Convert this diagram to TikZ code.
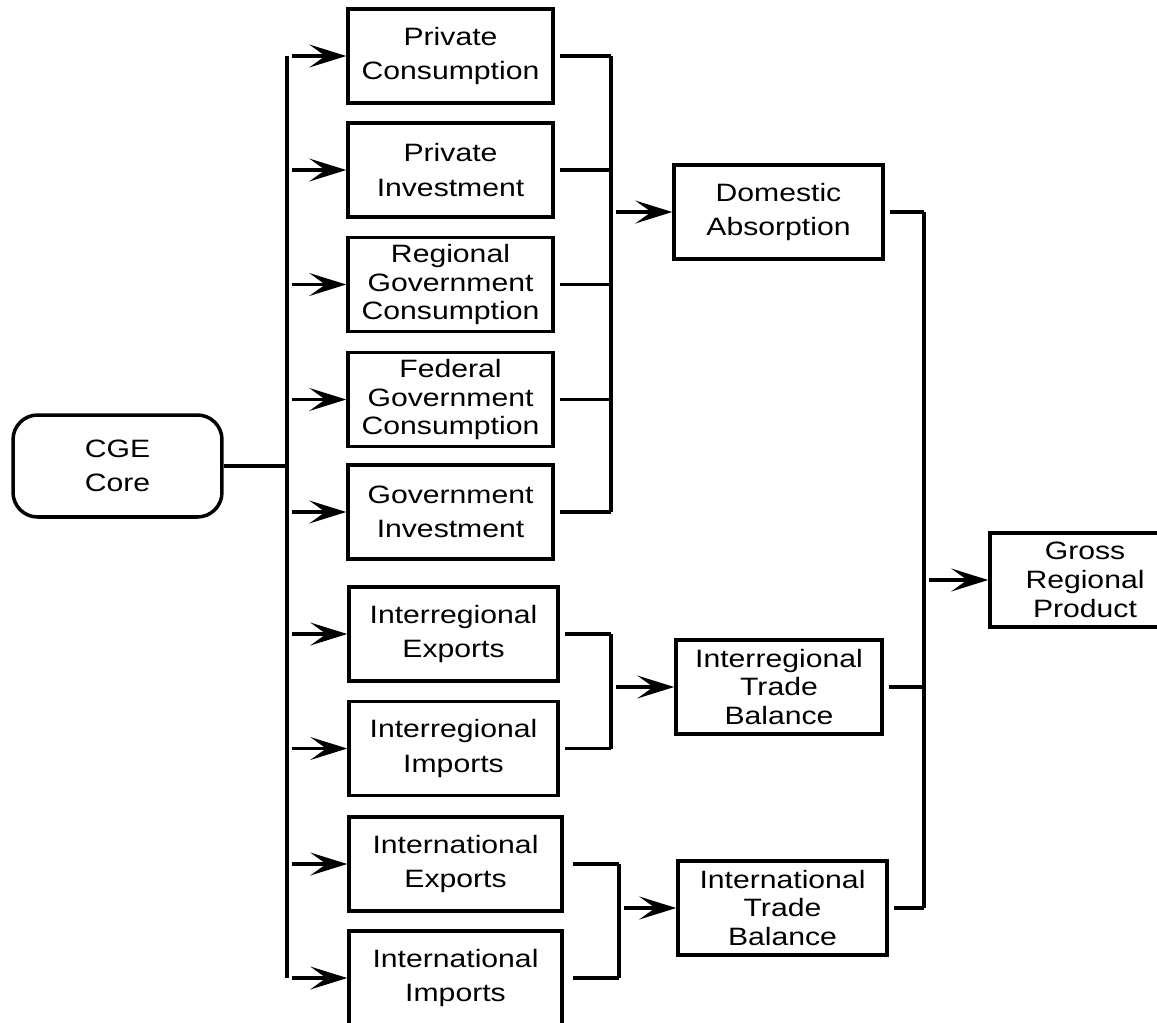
\documentclass[tikz,border=0pt]{standalone}
\usepackage{fontspec}
\setmainfont{Liberation Sans}[FakeStretch=1.2]
\usetikzlibrary{arrows.meta}

\tikzset{
  box/.style={draw, line width=2pt, inner sep=0pt, align=center,
    minimum width=4.1cm, minimum height=1.88cm,
    font=\fontsize{14.3}{19.5}\selectfont},
  tallbox/.style={box, font=\fontsize{14.3}{16.5}\selectfont},
  link/.style={line width=2pt},
  feed/.style={link, -{Stealth[length=21pt, width=13pt, inset=9pt]}}
}

\begin{document}
\begin{tikzpicture}[x=0.02cm, y=-0.02cm]
  \useasboundingbox (0,0) rectangle (1157,1022);
  \clip (0,0) rectangle (1157,1022);

  % core and the nine components
  \node [box, rounded corners=14pt, minimum width=4.18cm, minimum height=2.04cm] (core) at (117.5,466) {CGE\\Core};

  \node [box] (pcons) at (450.5,56) {Private\\Consumption};
  \node [box] (pinv) at (450.5,170) {Private\\Investment};
  \node [tallbox] (rgov) at (450.5,284.5) {Regional\\Government\\Consumption};
  \node [tallbox] (fgov) at (450.5,399.5) {Federal\\Government\\Consumption};
  \node [box] (ginv) at (450.5,512) {Government\\Investment};
  \node [box, minimum width=4.18cm] (rexp) at (453.5,634) {Interregional\\Exports};
  \node [box, minimum width=4.18cm] (rimp) at (453.5,748.5) {Interregional\\Imports};
  \node [box, minimum width=4.26cm] (xexp) at (455.5,864) {International\\Exports};
  \node [box, minimum width=4.26cm] (ximp) at (455.5,978) {International\\Imports};

  % aggregates
  \node [box, minimum width=4.18cm] (dabs) at (778.5,212) {Domestic\\Absorption};
  \node [tallbox, minimum width=4.12cm] (rtb) at (779,687) {Interregional\\Trade\\Balance};
  \node [tallbox, minimum width=4.18cm] (xtb) at (782.5,908) {International\\Trade\\Balance};
  \node [tallbox, minimum width=3.8cm] (grp) at (1085,580) {Gross\\Regional\\Product};

  % bus lines
  \coordinate (busL) at (287,0);
  \coordinate (busA) at (611,0);
  \coordinate (busB) at (611,0);
  \coordinate (busC) at (619,0);
  \coordinate (busD) at (924,0);

  % core to components
  \draw [link] (core.east) -- (core.east -| busL);
  \draw [link] (pcons.west -| busL) -- (ximp.west -| busL);
  \foreach \n in {pcons,pinv,rgov,fgov,ginv,rexp,rimp,xexp,ximp}
    \draw [feed, shorten <=3pt] (\n.west -| busL) -- (\n.west);

  % components to domestic absorption
  \foreach \n in {pcons,pinv,rgov,fgov,ginv}
    \draw [link, shorten <=3pt] (\n.east) -- (\n.east -| busA);
  \draw [link] (pcons.east -| busA) -- (ginv.east -| busA);
  \draw [feed, shorten <=3pt] (dabs.west -| busA) -- (dabs.west);

  % interregional trade
  \foreach \n in {rexp,rimp}
    \draw [link, shorten <=3pt] (\n.east) -- (\n.east -| busB);
  \draw [link] (rexp.east -| busB) -- (rimp.east -| busB);
  \draw [feed, shorten <=3pt] (rtb.west -| busB) -- (rtb.west);

  % international trade
  \foreach \n in {xexp,ximp}
    \draw [link, shorten <=5pt] (\n.east) -- (\n.east -| busC);
  \draw [link] (xexp.east -| busC) -- (ximp.east -| busC);
  \draw [feed, shorten <=3pt] (xtb.west -| busC) -- (xtb.west);

  % aggregates to gross regional product
  \foreach \n in {dabs,rtb,xtb}
    \draw [link, shorten <=3pt] (\n.east) -- (\n.east -| busD);
  \draw [link] (dabs.east -| busD) -- (xtb.east -| busD);
  \draw [feed, shorten <=3pt] (grp.west -| busD) -- (grp.west);
\end{tikzpicture}
\end{document}
